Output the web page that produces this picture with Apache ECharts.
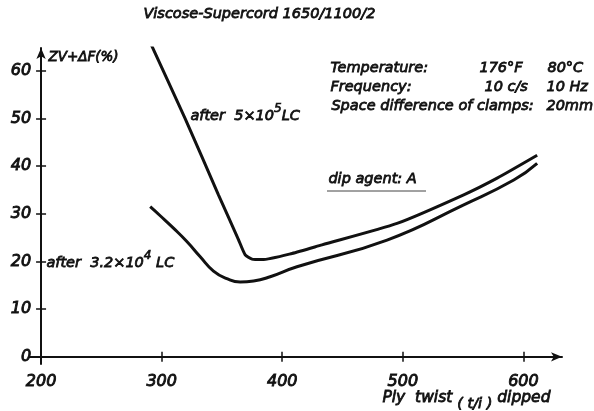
<!DOCTYPE html>
<html>
<head>
<meta charset="utf-8">
<script src="https://cdn.jsdelivr.net/npm/echarts@6/dist/echarts.min.js"></script>
<style>
  html, body { margin: 0; padding: 0; background: #fff; }
  #chart { width: 594px; height: 411px; }
</style>
</head>
<body>
<div id="chart"></div>
<script>
// Ply twist (t/i) vs. ZV+ΔF (%) for Viscose-Supercord 1650/1100/2
const xTicks = [200, 300, 400, 500, 600];
const yTicks = [0, 10, 20, 30, 40, 50, 60];

// after 5×10^5 load cycles
const after5e5 = [
  [288.8, 66.9], [319.5, 50.0], [347.1, 34.0], [363.7, 24.6],
  [369.3, 21.4], [374.9, 20.5], [383.2, 20.4], [408.1, 21.7], [433, 23.5],
  [495.2, 28.0], [550.5, 34.0], [578.2, 37.5], [611.4, 42.3]
];
// after 3.2×10^4 load cycles
const after32e4 = [
  [290.5, 31.5], [298.8, 29.6], [309.8, 27.0], [320.9, 24.2], [332.0, 21.0],
  [343.0, 18.0], [354.1, 16.4], [365.1, 15.7], [376.2, 15.9], [390.0, 16.8],
  [412.2, 18.9], [486.9, 24.5], [550.5, 31.9], [592, 37.1], [611.4, 40.6]
];

const FONT = '"DejaVu Sans", sans-serif';
const INK = '#111';
const LABEL_FONT = 'italic 14.5px ' + FONT;
const HEAVY = { stroke: INK, lineWidth: 0.8 };

const chart = echarts.init(document.getElementById('chart'), null, { renderer: 'canvas' });

const baseX = { type: 'value', min: 190, max: 632, splitLine: { show: false } };
const baseY = { type: 'value', min: -1.5, max: 64.8, splitLine: { show: false } };
const tickStyle = { color: INK, width: 1.5 };
const tickFont = {
  color: INK, fontFamily: FONT, fontStyle: 'italic', fontSize: 16,
  textBorderColor: INK, textBorderWidth: 0.9
};

const txt = (left, top, text, font) => ({
  type: 'text', left, top,
  style: Object.assign({ text, fill: INK, font: font || LABEL_FONT }, HEAVY)
});

// rich-text runs use zrender's own stroke/lineWidth for the outline
const run = (font, extra) => Object.assign({ font, fill: INK, stroke: INK, lineWidth: 0.8 }, extra);

const supRich = {
  a: run(LABEL_FONT, { verticalAlign: 'bottom' }),
  s: run('italic 12px ' + FONT, { lineWidth: 0.7, padding: [0, 0, 8, 0], verticalAlign: 'bottom' })
};

chart.setOption({
  animation: false,
  backgroundColor: '#fff',
  grid: { left: 29, top: 48, width: 533, height: 316, containLabel: false },
  xAxis: [
    Object.assign({}, baseX, {
      axisLine: { onZero: true, lineStyle: { color: INK, width: 2 }, symbol: ['none', 'arrow'], symbolSize: [7, 11] },
      axisTick: { show: true, inside: false, length: 5, customValues: xTicks, lineStyle: tickStyle },
      axisLabel: Object.assign({ customValues: xTicks, margin: 10 }, tickFont)
    }),
    Object.assign({}, baseX, {
      position: 'bottom',
      axisLine: { show: false, onZero: true },
      axisTick: { show: true, inside: true, length: 5, customValues: xTicks, lineStyle: tickStyle },
      axisLabel: { show: false }
    })
  ],
  yAxis: [
    Object.assign({}, baseY, {
      offset: -12.06,
      axisLine: { lineStyle: { color: INK, width: 2 }, symbol: ['none', 'arrow'], symbolSize: [7, 11] },
      axisTick: { show: true, inside: false, length: 5, customValues: yTicks, lineStyle: tickStyle },
      axisLabel: Object.assign({ customValues: yTicks, margin: 10 }, tickFont)
    }),
    Object.assign({}, baseY, {
      position: 'left',
      offset: -12.06,
      axisLine: { show: false },
      axisTick: { show: true, inside: true, length: 5, customValues: yTicks, lineStyle: tickStyle },
      axisLabel: { show: false }
    })
  ],
  series: [
    {
      name: 'after 5×10⁵ LC', type: 'line', data: after5e5,
      smooth: 0.2, showSymbol: false,
      lineStyle: { color: INK, width: 3 }
    },
    {
      name: 'after 3.2×10⁴ LC', type: 'line', data: after32e4,
      smooth: 0.5, showSymbol: false,
      lineStyle: { color: INK, width: 3 }
    }
  ],
  graphic: [
    txt(143, 6, 'Viscose-Supercord 1650/1100/2', 'italic 14.5px ' + FONT),
    txt(48, 50, 'ZV+ΔF(%)', 'italic 13.5px ' + FONT),
    {
      type: 'text', left: 190, top: 103,
      style: { text: '{a|after  5×10}{s|5}{a|LC}', rich: supRich }
    },
    {
      type: 'text', left: 46, top: 250,
      style: { text: '{a|after  3.2×10}{s|4}{a| LC}', rich: supRich }
    },
    txt(330, 60, 'Temperature:'),
    txt(479, 60, '176°F'),
    txt(547, 60, '80°C'),
    txt(330, 79, 'Frequency:'),
    txt(484, 79, '10 c/s'),
    txt(546, 79, '10 Hz'),
    txt(331, 98, 'Space difference of clamps:'),
    txt(546, 98, '20mm'),
    txt(328, 171, 'dip agent: A'),
    { type: 'line', shape: { x1: 327, y1: 191, x2: 426, y2: 191 }, style: { stroke: '#444', lineWidth: 1 } },
    {
      type: 'text', left: 382, top: 390,
      style: {
        text: '{a|Ply  twist }{b|( t/i )}{a| dipped}',
        rich: {
          a: run('italic 15.5px ' + FONT, { verticalAlign: 'top' }),
          b: run('italic 14.5px ' + FONT, { padding: [6, 0, 0, 0], verticalAlign: 'top' })
        }
      }
    }
  ]
});
</script>
</body>
</html>
